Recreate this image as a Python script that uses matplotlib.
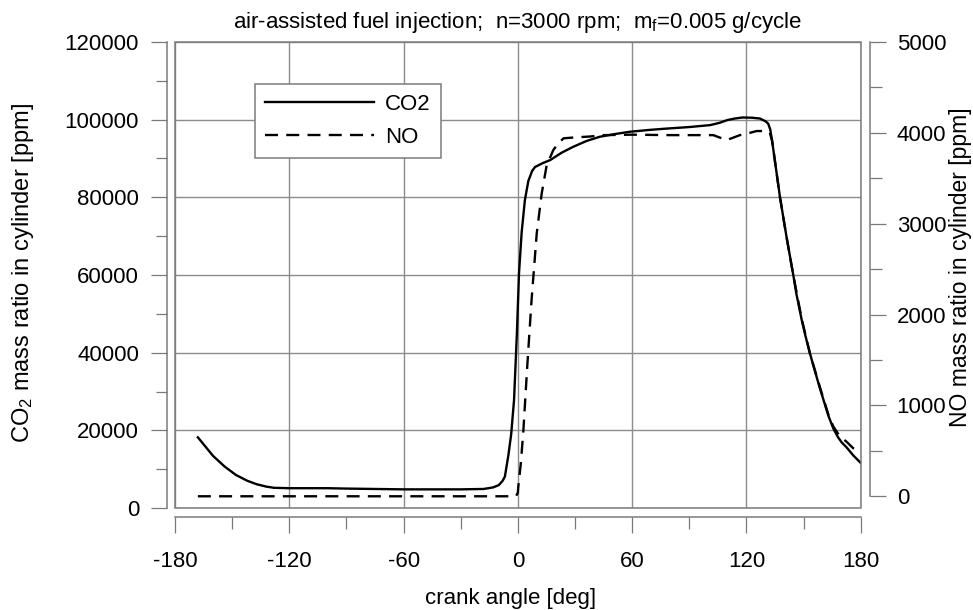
import numpy as np
import matplotlib
matplotlib.use("Agg")
import matplotlib.pyplot as plt
from matplotlib.patches import Rectangle
from matplotlib.ticker import MultipleLocator

plt.rcParams['font.family'] = ['Liberation Sans', 'DejaVu Sans']
plt.rcParams['mathtext.fontset'] = 'custom'
plt.rcParams['mathtext.rm'] = 'Liberation Sans'
plt.rcParams['mathtext.it'] = 'Liberation Sans:italic'
plt.rcParams['axes.unicode_minus'] = False

# CO2 curve (left axis, ppm)
crank_co2 = [-168, -164, -160, -154, -148, -142, -137, -132, -128, -120, -100, -90,
             -75, -60, -30, -18, -13, -10, -8, -6.8, -5, -3.5, -2, -0.5, 0.6, 2,
             3.7, 5.5, 7.5, 9, 13, 17, 23, 29, 36, 43, 51, 59, 70, 78, 90, 101,
             106, 110, 114, 118, 123, 127, 130, 131.4, 132.5, 133.5, 134.5, 137.6,
             141, 144.6, 146.3, 149, 151, 153.3, 156, 158.6, 161, 163, 165.6, 168,
             170, 172.6, 176, 180]
co2 = [18200, 15800, 13400, 10700, 8500, 7000, 6100, 5500, 5200, 5100, 5100, 5000,
       4900, 4800, 4800, 4900, 5300, 5900, 7000, 8100, 13500, 19000, 27800, 45000,
       60400, 71000, 79300, 84200, 86800, 87800, 88800, 89600, 91500, 93000, 94500,
       95600, 96300, 96900, 97400, 97700, 98100, 98600, 99200, 99900, 100300,
       100560, 100500, 100300, 99600, 99000, 97500, 94500, 91000, 80100, 70000,
       60000, 55000, 48500, 44300, 39900, 35200, 30800, 27000, 23800, 20500, 18300,
       16900, 15600, 13600, 11600]

# NO curve (right axis, ppm)
crank_no = [-168, -1, 0, 0.2, 1.5, 2.8, 4.9, 7.2, 9.9, 12.5, 15.1, 18.6, 21, 24, 30,
            38, 45, 60, 80, 102.6, 109.6, 116.6, 120.1, 125.3, 130.6, 132.3, 133.5,
            134.5, 137.6, 141, 144.6, 149, 153.3, 158.6, 163, 165.6, 169, 172.6,
            176, 180]
no = [0, 0, 40, 100, 350, 690, 1420, 2160, 2890, 3330, 3640, 3810, 3880, 3940, 3950,
      3960, 3975, 3980, 3975, 3975, 3920, 3975, 3990, 4020, 4020, 4000, 3910, 3760,
      3294, 2860, 2434, 1955, 1575, 1200, 900, 770, 660, 600, 530, 470]

GRAY = '#7a7a7a'
FS = 16

fig = plt.figure(figsize=(9.73, 6.10), dpi=100)
ax = fig.add_axes([175/973, 102/610, 685.7/973, 466/610])
ax2 = ax.twinx()

l1, = ax.plot(crank_co2, co2, color='black', lw=1.7, label='CO2')
l2, = ax2.plot(crank_no, no, color='black', lw=1.7, ls=(0, (5.5, 3.5)), label='NO')

ax.set_xlim(-180, 180)
ax.set_ylim(0, 120000)
ax2.set_ylim(-129, 5000)

ax.xaxis.set_major_locator(MultipleLocator(60))
ax.xaxis.set_minor_locator(MultipleLocator(30))
ax.yaxis.set_major_locator(MultipleLocator(20000))
ax.yaxis.set_minor_locator(MultipleLocator(10000))
ax2.yaxis.set_major_locator(MultipleLocator(1000))
ax2.yaxis.set_minor_locator(MultipleLocator(500))

ax.grid(True, which='major', color='#8c8c8c', lw=1.0)
ax.set_axisbelow(True)

for sp in ['top', 'right']:
    ax.spines[sp].set_visible(False)
for sp in ['top', 'left', 'bottom']:
    ax2.spines[sp].set_visible(False)
ax.spines['left'].set_position(('outward', 5.8))
ax.spines['bottom'].set_position(('outward', 6.3))
ax2.spines['right'].set_position(('outward', 6.7))
ax2.spines['right'].set_bounds(0, 5000)
for s in [ax.spines['left'], ax.spines['bottom'], ax2.spines['right']]:
    s.set_color(GRAY)
    s.set_linewidth(1.1)

ax.add_patch(Rectangle((0, 0), 1, 1, transform=ax.transAxes, fill=False,
                       edgecolor=GRAY, lw=1.1, clip_on=False, zorder=3))

ax.tick_params(axis='y', which='major', length=11.5, width=0.9, color=GRAY,
               pad=8.6, labelsize=FS)
ax.tick_params(axis='y', which='minor', length=8, width=0.9, color=GRAY)
ax.tick_params(axis='x', which='major', length=11.5, width=0.9, color=GRAY,
               pad=13.5, labelsize=FS)
ax.tick_params(axis='x', which='minor', length=8.5, width=0.9, color=GRAY)
ax2.tick_params(axis='y', which='major', length=11.5, width=0.9, color=GRAY,
                pad=7.7, labelsize=FS)
ax2.tick_params(axis='y', which='minor', length=8.5, width=0.9, color=GRAY)

fig.text(517.8/973, 1 - 28.3/610,
         r'air-assisted fuel injection;  n=3000 rpm;  m$_\mathrm{f}$=0.005 g/cycle',
         ha='center', va='baseline', fontsize=16)
fig.text(23/973, 1 - 273/610, r'CO$_2$ mass ratio in cylinder [ppm]',
         rotation=90, ha='center', va='center', fontsize=17)
fig.text(961/973, 1 - 267/610, 'NO mass ratio in cylinder [ppm]',
         rotation=90, ha='center', va='center', fontsize=16.5)
fig.text(511/973, 1 - 604/610, 'crank angle [deg]', ha='center', va='baseline',
         fontsize=16)

leg = ax2.legend([l1, l2], ['CO2', 'NO'], loc='upper left',
                 bbox_to_anchor=(0.1167, 0.9099), borderaxespad=0, fontsize=FS,
                 handlelength=4.9, handletextpad=0.5, borderpad=0.45,
                 labelspacing=0.55, fancybox=False, framealpha=1)
leg.get_frame().set_edgecolor(GRAY)
leg.get_frame().set_linewidth(1.1)

fig.savefig('out.png', dpi=100)
